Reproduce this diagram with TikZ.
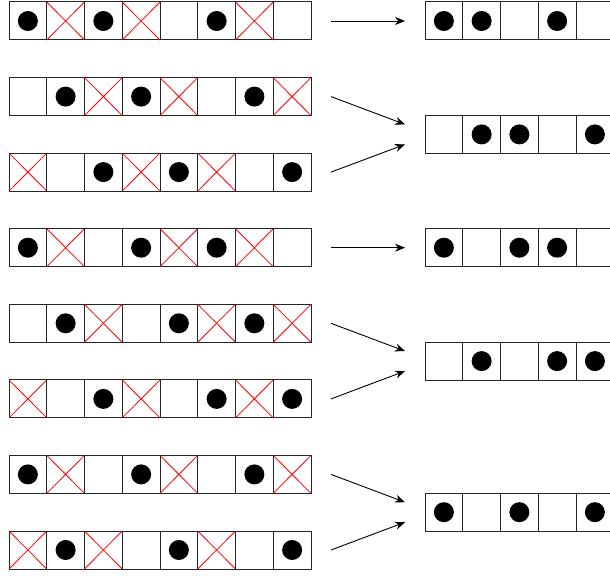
\documentclass[tikz,border=0pt]{standalone}
\usetikzlibrary{arrows.meta}
\tikzset{
  cell/.style={draw=black!85, line width=1pt, minimum width=37.75pt, minimum height=38pt, inner sep=0pt, outer sep=0pt, fill=white},
  xmark/.style={red, line width=0.8pt},
  conn/.style={-{Stealth[length=10pt,width=8pt]}, line width=0.9pt}
}
\newcommand\cellrow[4]{%
  \foreach \v [count=\j] in {#4} {
    \node[cell] (#1c\j) at ({#2+37.75*(\j-0.5)},#3) {};
    \ifnum\v=1 \fill (#1c\j.center) circle (10pt);\fi
    \ifnum\v=2 \draw[xmark] (#1c\j.north west) -- (#1c\j.south east) (#1c\j.north east) -- (#1c\j.south west);\fi
  }%
}
\begin{document}
\begin{tikzpicture}[x=1pt,y=-1pt]
\useasboundingbox (0,0) rectangle (610,577);
\clip (0,0) rectangle (610,577);
% left rows
\cellrow{La}{9}{21}{1,2,1,2,0,1,2,0}
\cellrow{Lb}{9}{96.6}{0,1,2,1,2,0,1,2}
\cellrow{Lc}{9}{172.1}{2,0,1,2,1,2,0,1}
\cellrow{Ld}{9}{247.7}{1,2,0,1,2,1,2,0}
\cellrow{Le}{9}{323.3}{0,1,2,0,1,2,1,2}
\cellrow{Lf}{9}{398.9}{2,0,1,2,0,1,2,1}
\cellrow{Lg}{9}{474.4}{1,2,0,1,2,0,1,2}
\cellrow{Lh}{9}{550}{2,1,2,0,1,2,0,1}
% right rows
\cellrow{Ra}{425}{21}{1,1,0,1,0}
\cellrow{Rb}{425}{134.4}{0,1,1,0,1}
\cellrow{Rc}{425}{247.7}{1,0,1,1,0}
\cellrow{Rd}{425}{361.1}{0,1,0,1,1}
\cellrow{Re}{425}{512.2}{1,0,1,0,1}
% connectors
\draw[conn] ([xshift=20pt]Lac8.east) -- ([xshift=-20pt]Rac1.west);
\draw[conn] ([xshift=20pt]Lbc8.east) -- ([xshift=-20pt,yshift=10pt]Rbc1.west);
\draw[conn] ([xshift=20pt]Lcc8.east) -- ([xshift=-20pt,yshift=-10pt]Rbc1.west);
\draw[conn] ([xshift=20pt]Ldc8.east) -- ([xshift=-20pt]Rcc1.west);
\draw[conn] ([xshift=20pt]Lec8.east) -- ([xshift=-20pt,yshift=10pt]Rdc1.west);
\draw[conn] ([xshift=20pt]Lfc8.east) -- ([xshift=-20pt,yshift=-10pt]Rdc1.west);
\draw[conn] ([xshift=20pt]Lgc8.east) -- ([xshift=-20pt,yshift=10pt]Rec1.west);
\draw[conn] ([xshift=20pt]Lhc8.east) -- ([xshift=-20pt,yshift=-10pt]Rec1.west);
\end{tikzpicture}
\end{document}
